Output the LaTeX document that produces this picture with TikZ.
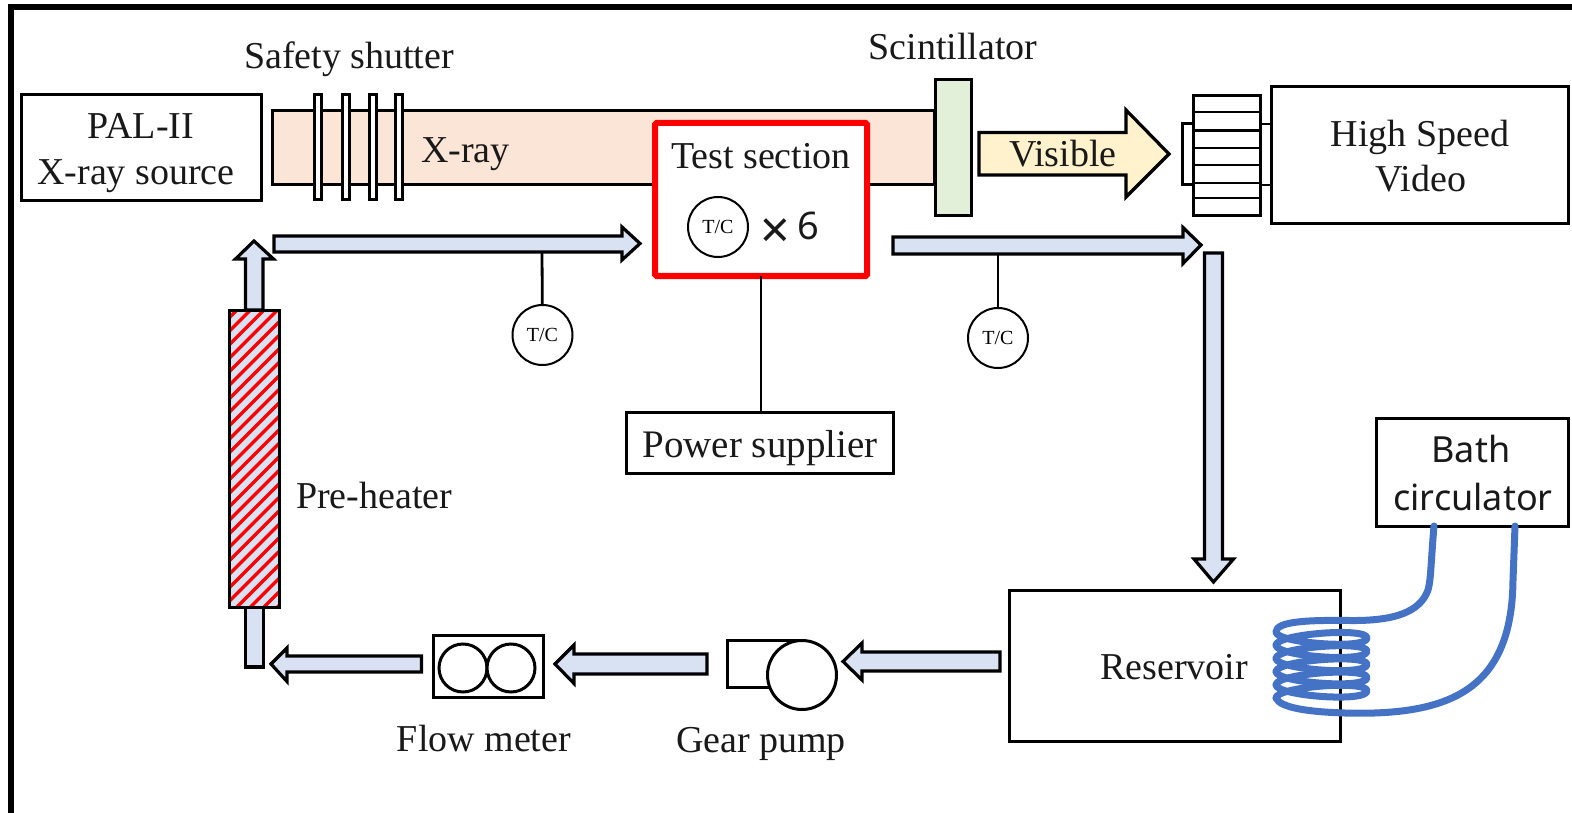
\documentclass[tikz,border=0pt]{standalone}
\usepackage{fontspec}
\setmainfont{Liberation Serif}
\newfontfamily\malgun{Noto Sans}
\definecolor{flowblue}{HTML}{D9E2F3}
\definecolor{rayorange}{HTML}{FBE5D6}
\definecolor{scintgreen}{HTML}{E2F0D9}
\definecolor{lightyellow}{HTML}{FFF2CC}
\definecolor{coilblue}{HTML}{4472C4}
\tikzset{
  boxnode/.style={draw=black,line width=3pt,fill=white,inner sep=0pt,outer sep=0pt},
  lbl/.style={font=\fontsize{38}{44}\selectfont,anchor=base,inner sep=0pt,text=black!90},
  sanslbl/.style={font=\malgun\fontsize{36}{42}\selectfont,anchor=base,inner sep=0pt,text=black!90},
  tclabel/.style={circle,draw=black,line width=2pt,fill=white,minimum size=60pt,inner sep=0pt,outer sep=0pt,font=\fontsize{20}{24}\selectfont},
  flowarrow/.style={draw=black,line width=3.2pt,fill=flowblue,line join=miter},
  thinline/.style={draw=black,line width=2.8pt},
  coil/.style={draw=coilblue,line width=7pt,line cap=round,line join=round},
  roundpart/.style={circle,draw=black,line width=3pt,fill=white,inner sep=0pt,outer sep=0pt},
}
\begin{document}
\begin{tikzpicture}[x=1pt,y=-1pt]
\useasboundingbox (0,0) rectangle (1572,813);
\fill[white] (0,0) rectangle (1572,813);
\draw[black,line width=6pt] (10.5,813) -- (10.5,7.5) -- (1572,7.5);

% X-ray band and source
\node[boxnode,fill=rayorange,minimum width=662pt,minimum height=74pt] (band) at (603,147.5) {};
\node[boxnode,minimum width=240pt,minimum height=106pt] (pal) at (141,148) {};
\node[lbl] (pal1) at (141,139) {PAL-II};
\node[lbl] (pal2) at (136,185) {X-ray source};
\foreach \n/\cx in {a/318,b/345.5,c/372.5,d/399}{
  \node[boxnode,minimum width=7pt,minimum height=105pt] (sh\n) at (\cx,147) {};
}
\node[lbl] (shutterlabel) at (349,69) {Safety shutter};
\node[lbl,anchor=base west] (xraylabel) at (421,163) {X-ray};

% Test section
\node[draw=red,line width=6pt,fill=white,rounded corners=1.5pt,inner sep=0pt,outer sep=0pt,minimum width=212pt,minimum height=153pt] (test) at (761,199.5) {};
\node[lbl] (testlabel) at (761,169) {Test section};
\node[tclabel] (tctest) at (718,227) {T/C};
\node[font=\malgun\fontsize{38}{46}\selectfont,anchor=base west,inner sep=0pt,text=black!90] (times) at (760,240) {\raisebox{-9pt}{\fontsize{52}{52}\selectfont ×}\hspace{8pt}6};

% Scintillator and visible arrow
\node[boxnode,fill=scintgreen,minimum width=36pt,minimum height=136pt] (scint) at (953,148) {};
\node[lbl] (scintlabel) at (953,60) {Scintillator};
\draw[flowarrow,fill=lightyellow] (979,132.5) -- (1126,132.5) -- (1126,110) -- (1169,154) -- (1126,197) -- (1126,175) -- (979,175) -- cycle;
\node[lbl] (visible) at (1063,167) {Visible};

% Camera
\node[boxnode,minimum width=296.5pt,minimum height=137pt] (camera) at (1420,155.5) {};
\node[lbl] (cam1) at (1420,147) {High Speed};
\node[lbl] (cam2) at (1421,192) {Video};
\node[boxnode,minimum width=67pt,minimum height=120pt] (lens) at (1227,155.5) {};
\node[boxnode,minimum width=11pt,minimum height=61pt] (lensfront) at (1188,154.5) {};
\foreach \ly in {112,130.5,148,165,183,198}{
  \draw[thinline] (lens.west |- 0,\ly) -- (lens.east |- 0,\ly);
}
\draw[thinline] (lens.east |- 0,124) -- (camera.west |- 0,124);
\draw[thinline] (lens.east |- 0,185) -- (camera.west |- 0,185);

% Flow loop
\draw[flowarrow] (274,236) -- (622,236) -- (622,227) -- (640,243.5) -- (622,260) -- (622,252) -- (274,252) -- cycle;
\draw[flowarrow] (893,237) -- (1183,237) -- (1183,227.5) -- (1201,245) -- (1183,263.5) -- (1183,254) -- (893,254) -- cycle;
\draw[flowarrow] (1204.5,253) -- (1222.5,253) -- (1222.5,559) -- (1233.5,559) -- (1213.5,582) -- (1194,559) -- (1204.5,559) -- cycle;
\draw[flowarrow] (1000,652) -- (862,652) -- (862,643) -- (843,661.5) -- (862,680) -- (862,671) -- (1000,671) -- cycle;
\draw[flowarrow] (707,654) -- (574,654) -- (574,645) -- (555,664) -- (574,683.5) -- (574,674) -- (707,674) -- cycle;
\draw[flowarrow] (421.5,656) -- (287,656) -- (287,648) -- (271,664) -- (287,681.5) -- (287,672) -- (421.5,672) -- cycle;
\draw[flowarrow] (245.5,310) -- (245.5,259) -- (235.5,259) -- (254,241) -- (273.5,259) -- (263,259) -- (263,310) -- cycle;
\draw[flowarrow] (245.5,607) -- (263.5,607) -- (263.5,667) -- (245.5,667) -- cycle;

% Pre-heater
\node[inner sep=0pt,outer sep=0pt,fill=flowblue,minimum width=50pt,minimum height=297pt] (heater) at (254,458.5) {};
\begin{scope}
\clip (heater.south west) rectangle (heater.north east);
\foreach \k in {0,...,27}{
  \draw[red,line width=3.4pt] (229,{318+13.5*\k}) -- (279,{268+13.5*\k});
}
\end{scope}
\draw[black,line width=3pt] (heater.south west) rectangle (heater.north east);
\node[lbl,anchor=base west] (heaterlabel) at (296,508) {Pre-heater};

% Thermocouples and power
\coordinate (tapL) at (542,252);
\coordinate (tapR) at (998,254);
\node[tclabel] (tcL) at (542.5,335) {T/C};
\node[tclabel] (tcR) at (998,338) {T/C};
\draw[thinline] (tapL) -- (tcL);
\draw[thinline] (tapR |- tcR.north) -- (tapR);
\node[boxnode,minimum width=267pt,minimum height=61pt] (power) at (760,443) {};
\node[lbl,font=\fontsize{39}{44}\selectfont] (powerlabel) at (760,457) {Power supplier};
\draw[thinline] (test.south) -- (test.south |- power.north);

% Flow meter
\node[boxnode,minimum width=110pt,minimum height=62pt] (flow) at (488,666) {};
\node[roundpart,minimum size=48pt] (flowA) at (463,668) {};
\node[roundpart,minimum size=48pt] (flowB) at (511,668) {};
\node[lbl] (flowlabel) at (484,751) {Flow meter};

% Gear pump
\node[boxnode,minimum width=75pt,minimum height=47pt] (gearbody) at (764.5,663.5) {};
\node[roundpart,minimum size=69pt] (gearwheel) at (802,675) {};
\node[lbl] (gearlabel) at (761,752) {Gear pump};

% Reservoir, bath and coil
\node[boxnode,minimum width=331pt,minimum height=151pt] (reservoir) at (1175,665.5) {};
\node[lbl] (reservoirlabel) at (1174,679) {Reservoir};
\node[boxnode,minimum width=192pt,minimum height=108pt] (bath) at (1472,472) {};
\node[sanslbl] (bath1) at (1471,462) {Bath};
\node[sanslbl] (bath2) at (1473,510) {circulator};
\coordinate (leadA) at (1434,526);
\coordinate (leadB) at (1515,526);
\draw[coil] (leadA) .. controls (1431,560) and (1431,580) .. (1428,590)
  .. controls (1420,612) and (1395,621) .. (1350,620.5)
  .. controls (1310,620) and (1276,621) .. (1276,632);
\foreach \i in {0,...,4}{
  \draw[coil,shift={(0,{13.2*\i})}] (1276,632)
    .. controls (1276,643) and (1367,650) .. (1367,638)
    .. controls (1367,627) and (1276,634) .. (1276,645.2);
}
\draw[coil] (1276,698) .. controls (1280,708) and (1310,712) .. (1345,713)
  .. controls (1450,716) and (1512,690) .. (1513,580)
  -- (leadB);
\end{tikzpicture}
\end{document}
